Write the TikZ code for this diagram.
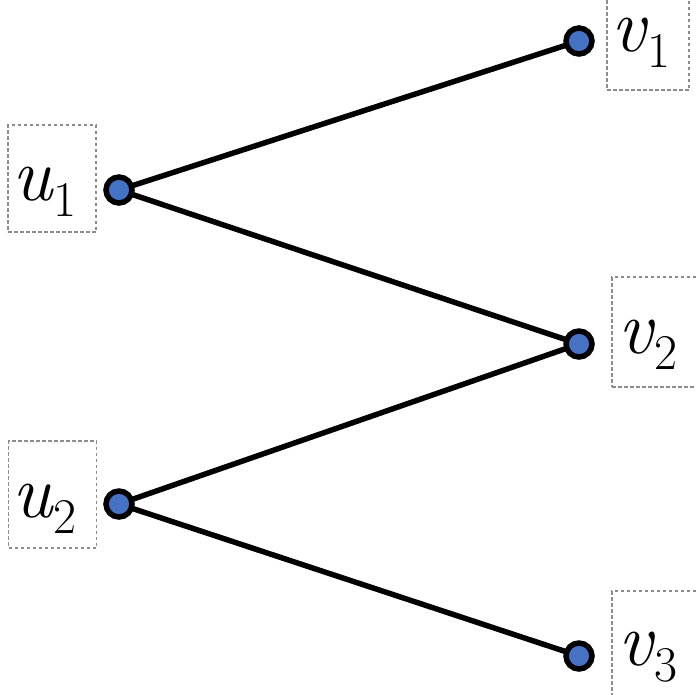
\documentclass[tikz,border=0pt]{standalone}
\definecolor{nodeblue}{RGB}{68,114,196}
\definecolor{boxgray}{RGB}{140,140,140}
\newcommand{\lbl}[2]{\textit{#1}\raisebox{-16pt}{\fontsize{50}{50}\selectfont #2}}
\tikzset{
  vert/.style={circle, draw=black, fill=nodeblue, line width=5.5pt, minimum size=26pt, inner sep=0pt},
  edgeline/.style={line width=5.5pt, black},
  lblbox/.style={draw=boxgray, dash pattern=on 3.5pt off 2.5pt, line width=1.5pt, inner sep=0pt},
  lbltext/.style={anchor=base west, inner sep=0pt, font=\fontsize{76}{76}\selectfont},
}
\begin{document}
\begin{tikzpicture}[x=1pt,y=-1pt]
\useasboundingbox (0,0) rectangle (696,694);
% label boxes
\node[lblbox, minimum width=88pt, minimum height=107pt] (bu1) at (52,178.5) {};
\node[lblbox, minimum width=88pt, minimum height=107pt] (bu2) at (52.5,494.5) {};
\node[lblbox, minimum width=82pt, minimum height=110pt] (bv1) at (648,35) {};
\node[lblbox, minimum width=110pt, minimum height=110pt] (bv2) at (667,332) {};
\node[lblbox, minimum width=110pt, minimum height=110pt] (bv3) at (667,646) {};
% label texts
\node[lbltext] (tu1) at (12,200) {\lbl{u}{1}};
\node[lbltext] (tu2) at (12,517) {\lbl{u}{2}};
\node[lbltext] (tv1) at (611,51) {\lbl{v}{1}};
\node[lbltext] (tv2) at (618,353) {\lbl{v}{2}};
\node[lbltext] (tv3) at (618,665) {\lbl{v}{3}};
% vertices
\coordinate (cu1) at (119,190);
\coordinate (cu2) at (119,504);
\coordinate (cv1) at (579,41);
\coordinate (cv2) at (579,344);
\coordinate (cv3) at (579,656);
\draw[edgeline] (cu1) -- (cv1);
\draw[edgeline] (cu1) -- (cv2);
\draw[edgeline] (cu2) -- (cv2);
\draw[edgeline] (cu2) -- (cv3);
\node[vert] (u1) at (cu1) {};
\node[vert] (u2) at (cu2) {};
\node[vert] (v1) at (cv1) {};
\node[vert] (v2) at (cv2) {};
\node[vert] (v3) at (cv3) {};
\end{tikzpicture}
\end{document}
